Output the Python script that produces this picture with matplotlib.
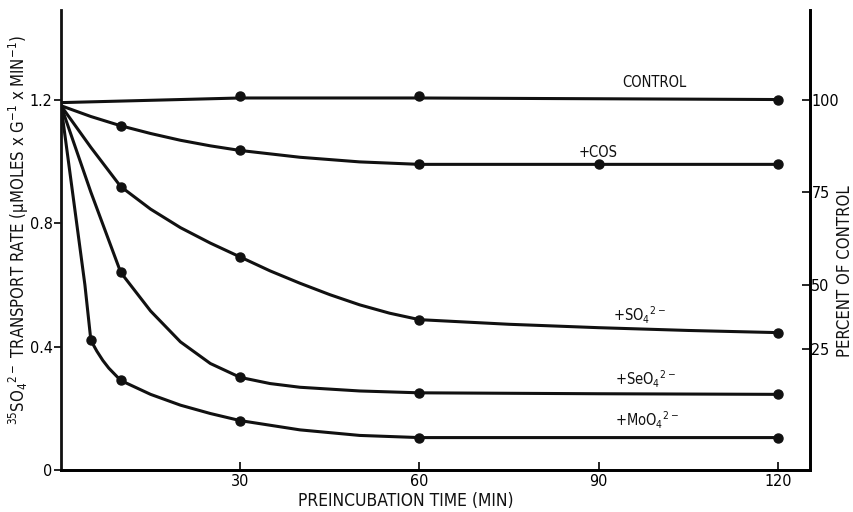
"""Sulfate transport rate vs preincubation time, with and without analogues."""

import matplotlib

matplotlib.use("Agg")
import matplotlib.pyplot as plt

plt.rcParams.update(
    {
        "font.family": ["DejaVu Sans"],
        "font.stretch": "condensed",
        "mathtext.fontset": "custom",
        "mathtext.rm": "DejaVu Sans:stretch=condensed",
        "mathtext.it": "DejaVu Sans:stretch=condensed",
        "mathtext.bf": "DejaVu Sans:stretch=condensed",
        "font.size": 10,
        "axes.linewidth": 2.0,
    }
)

INK = "#111111"

# Measured points (dots)
CONTROL_T = [30, 60, 120]
CONTROL_Y = [1.21, 1.21, 1.20]
COS_T = [10, 30, 60, 90, 120]
COS_Y = [1.115, 1.035, 0.99, 0.99, 0.99]
SO4_T = [10, 30, 60, 120]
SO4_Y = [0.918, 0.69, 0.487, 0.445]
SEO4_T = [10, 30, 60, 120]
SEO4_Y = [0.64, 0.30, 0.25, 0.245]
MOO4_T = [5, 10, 30, 60, 120]
MOO4_Y = [0.42, 0.29, 0.16, 0.105, 0.105]

# Hand-drawn curve traces
CONTROL_LINE_T = [0, 30, 60, 120]
CONTROL_LINE_Y = [1.19, 1.205, 1.205, 1.20]
COS_LINE_T = [0, 5, 10, 15, 20, 25, 30, 40, 50, 60, 90, 120]
COS_LINE_Y = [1.18, 1.145, 1.115, 1.09, 1.068, 1.05, 1.035, 1.013, 0.998, 0.99, 0.99, 0.99]
SO4_LINE_T = [0, 5, 10, 15, 20, 25, 30, 35, 40, 45, 50, 55, 60, 75, 90, 105, 120]
SO4_LINE_Y = [1.18, 1.045, 0.918, 0.845, 0.785, 0.735, 0.69, 0.645, 0.605, 0.568, 0.535, 0.508, 0.487,
              0.472, 0.461, 0.452, 0.445]
SEO4_LINE_T = [0, 5, 10, 15, 20, 25, 30, 35, 40, 50, 60, 90, 120]
SEO4_LINE_Y = [1.18, 0.90, 0.64, 0.515, 0.415, 0.345, 0.30, 0.28, 0.268, 0.256, 0.25, 0.247, 0.245]
MOO4_LINE_T = [0, 2, 4, 5, 6, 7, 8, 10, 15, 20, 25, 30, 40, 50, 60, 120]
MOO4_LINE_Y = [1.18, 0.89, 0.60, 0.42, 0.385, 0.355, 0.33, 0.29, 0.245, 0.21, 0.183, 0.16, 0.13, 0.112,
               0.105, 0.105]

SERIES = [
    (CONTROL_LINE_T, CONTROL_LINE_Y, CONTROL_T, CONTROL_Y),
    (COS_LINE_T, COS_LINE_Y, COS_T, COS_Y),
    (SO4_LINE_T, SO4_LINE_Y, SO4_T, SO4_Y),
    (SEO4_LINE_T, SEO4_LINE_Y, SEO4_T, SEO4_Y),
    (MOO4_LINE_T, MOO4_LINE_Y, MOO4_T, MOO4_Y),
]

LABELS = [
    ("CONTROL", 94.0, 1.255),
    ("+COS", 86.6, 1.03),
    (r"+SO$_4$$^{2-}$", 92.4, 0.50),
    (r"+SeO$_4$$^{2-}$", 92.7, 0.295),
    (r"+MoO$_4$$^{2-}$", 92.7, 0.16),
]

X_TICKS = [30, 60, 90, 120]
Y_TICKS = [0, 0.4, 0.8, 1.2]
Y_TICK_LABELS = ["0", "0.4", "0.8", "1.2"]
PCT_TICKS = [100, 75, 50, 32.7]
PCT_LABELS = ["100", "75", "50", "25"]

fig = plt.figure(figsize=(8.54, 5.12), dpi=100)
ax = fig.add_axes([61 / 854, 1 - 470 / 512, (810 - 61) / 854, 460 / 512])

for line_t, line_y, pt_t, pt_y in SERIES:
    ax.plot(line_t, line_y, color=INK, lw=2.2, solid_capstyle="round",
            solid_joinstyle="round", zorder=2)
    ax.plot(pt_t, pt_y, "o", color=INK, ms=6.5, zorder=3)

for text, x, y in LABELS:
    ax.text(x, y, text, ha="left", va="center", color=INK, fontsize=10.5)

ax.set_xlim(0, 125.4)
ax.set_ylim(0, 1.49)
ax.set_xticks(X_TICKS)
ax.set_yticks(Y_TICKS, Y_TICK_LABELS)
ax.tick_params(axis="x", direction="in", length=6, width=1.2, labelsize=11.5, pad=3)
ax.tick_params(axis="y", direction="out", length=5, width=1.2, labelsize=11.5, pad=1)
ax.spines["top"].set_visible(False)
for side in ("left", "bottom", "right"):
    ax.spines[side].set_color(INK)

ax2 = ax.twinx()
ax2.set_ylim(0, 1.49 / 1.2 * 100)
ax2.set_yticks(PCT_TICKS, PCT_LABELS)
ax2.tick_params(axis="y", direction="in", length=6, width=1.2, labelsize=11.5, pad=1)
ax2.spines["top"].set_visible(False)
ax2.spines["left"].set_visible(False)

fig.text(0.475, 0.022, "PREINCUBATION TIME (MIN)", ha="center", va="center",
         fontsize=12.5, color=INK)
fig.text(0.022, 0.55,
         r"$^{35}$SO$_4$$^{2-}$ TRANSPORT RATE ($\mu$MOLES x G$^{-1}$ x MIN$^{-1}$)",
         rotation=90, ha="center", va="center", fontsize=12, color=INK)
fig.text(0.99, 0.47, "PERCENT OF CONTROL", rotation=90, ha="center", va="center",
         fontsize=12, color=INK)

fig.savefig("out.png", dpi=100)
